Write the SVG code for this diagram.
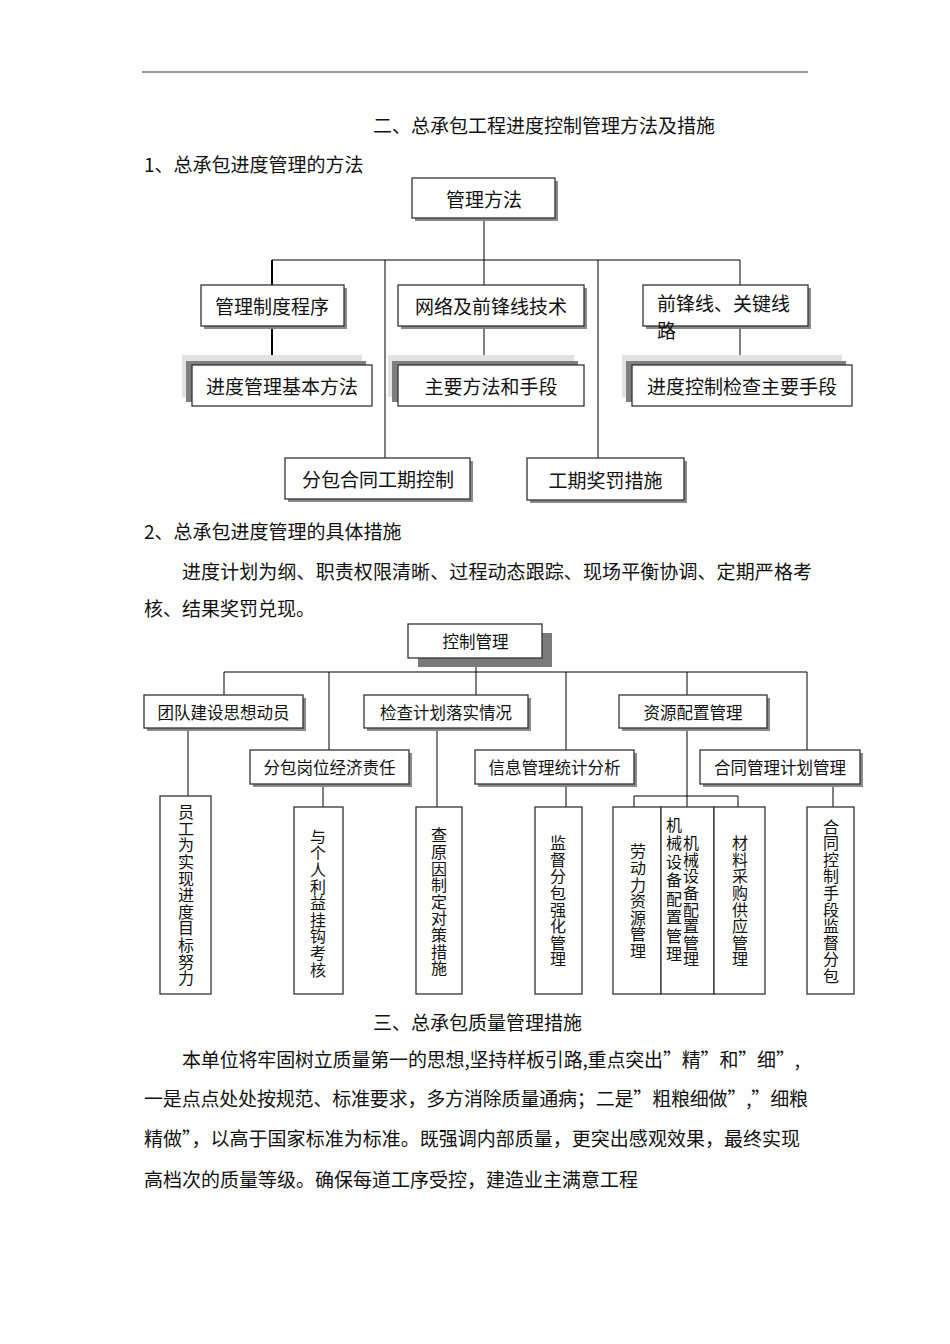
<svg xmlns="http://www.w3.org/2000/svg" width="950" height="1344" viewBox="0 0 950 1344">
<style>
.t{font-family:"Noto Sans CJK SC","Noto Sans CJK TC",sans-serif;fill:#111;font-size:19px}
.c{text-anchor:middle;dominant-baseline:central}
.s{font-size:16.5px}
.v{font-family:"Noto Sans CJK SC",sans-serif;fill:#111;font-size:16px;writing-mode:vertical-rl;text-anchor:middle;letter-spacing:0.6px}
.box{fill:#fff;stroke:#333;stroke-width:1.3}
.sh{fill:#8a8a8a}
.lt{fill:#e2e2e2}
.dk{fill:#7f7f7f}
.ln{stroke:#000;stroke-width:1;fill:none}
.th{stroke:#000;stroke-width:2;fill:none}
</style>
<rect width="950" height="1344" fill="#fff"/>
<line x1="142" y1="72" x2="808" y2="72" stroke="#333" stroke-width="1.2"/>
<g id="text-body">
<text class="t" x="373" y="124" dominant-baseline="central">二、总承包工程进度控制管理方法及措施</text>
<text class="t" x="144" y="163" dominant-baseline="central">1、总承包进度管理的方法</text>
<text class="t" x="144" y="530" dominant-baseline="central">2、总承包进度管理的具体措施</text>
<text class="t" x="182" y="570" dominant-baseline="central" textLength="630" lengthAdjust="spacing">进度计划为纲、职责权限清晰、过程动态跟踪、现场平衡协调、定期严格考</text>
<text class="t" x="144" y="607" dominant-baseline="central">核、结果奖罚兑现。</text>
<text class="t" x="373" y="1021" dominant-baseline="central">三、总承包质量管理措施</text>
<text class="t" x="182" y="1058" dominant-baseline="central" textLength="618" lengthAdjust="spacing">本单位将牢固树立质量第一的思想,坚持样板引路,重点突出”精”和”细”,</text>
<text class="t" x="144" y="1097" dominant-baseline="central" textLength="664" lengthAdjust="spacing">一是点点处处按规范、标准要求，多方消除质量通病；二是”粗粮细做”,”细粮</text>
<text class="t" x="144" y="1137" dominant-baseline="central" textLength="656" lengthAdjust="spacing">精做”，以高于国家标准为标准。既强调内部质量，更突出感观效果，最终实现</text>
<text class="t" x="144" y="1178" dominant-baseline="central">高档次的质量等级。确保每道工序受控，建造业主满意工程</text>
</g>
<g id="connectors">
<path class="ln" d="M484 218V260M272 260H740M385 260V458M484 260V285M598 260V458M740 260V285M484 326V365M740 326V365"/>
<path class="th" d="M272 260V285M272 326V365"/>
<path class="ln" d="M476 658V672M224 672H807M224 672V695M329 672V750M476 672V695M566 672V750M687 672V695M807 672V750M188 728V796M323 784V807M437 728V807M566 784V807M687 728V807M634 796H738M634 796V807M738 796V807M833 784V807"/>
</g>
<g id="n1"><rect class="sh" x="415" y="181" width="143" height="40"/><rect class="box" x="412" y="178" width="143" height="40"/><text class="t c" x="484" y="198">管理方法</text></g>
<g id="n2"><rect class="sh" x="204" y="288" width="143" height="41"/><rect class="box" x="201" y="285" width="143" height="41"/><text class="t c" x="272" y="305.5">管理制度程序</text></g>
<g id="n3"><rect class="sh" x="401" y="288" width="186" height="41"/><rect class="box" x="398" y="285" width="186" height="41"/><text class="t c" x="491" y="305.5">网络及前锋线技术</text></g>
<g id="n4"><rect class="sh" x="646" y="288" width="165" height="41"/><rect class="box" x="643" y="285" width="165" height="41"/><text class="t" x="657" y="302" dominant-baseline="central">前锋线、关键线</text><text class="t" x="657" y="329" dominant-baseline="central">路</text></g>
<g id="n5"><rect class="lt" x="182" y="355" width="180" height="42"/><rect class="dk" x="186" y="361" width="180" height="41"/><rect class="box" x="192" y="365" width="180" height="41"/><text class="t c" x="282" y="385.5">进度管理基本方法</text></g>
<g id="n6"><rect class="lt" x="388" y="355" width="186" height="42"/><rect class="dk" x="392" y="361" width="186" height="41"/><rect class="box" x="398" y="365" width="186" height="41"/><text class="t c" x="491" y="385.5">主要方法和手段</text></g>
<g id="n7"><rect class="lt" x="622" y="355" width="220" height="42"/><rect class="dk" x="626" y="361" width="220" height="41"/><rect class="box" x="632" y="365" width="220" height="41"/><text class="t c" x="742" y="385.5">进度控制检查主要手段</text></g>
<g id="n8"><rect class="sh" x="288" y="461" width="185" height="41"/><rect class="box" x="285" y="458" width="185" height="41"/><text class="t c" x="378" y="478.5">分包合同工期控制</text></g>
<g id="n9"><rect class="sh" x="530" y="461" width="157" height="42"/><rect class="box" x="527" y="458" width="157" height="42"/><text class="t c" x="605.5" y="479">工期奖罚措施</text></g>
<g id="m1"><rect fill="#7a7a7a" x="418" y="633" width="134" height="34"/><rect class="box" x="408" y="624" width="134" height="34"/><text class="t c s" x="475.5" y="641">控制管理</text></g>
<g id="m2"><rect class="sh" x="147" y="698" width="159" height="33"/><rect class="box" x="144" y="695" width="159" height="33"/><text class="t c s" x="223.5" y="711.5">团队建设思想动员</text></g>
<g id="m3"><rect class="sh" x="367" y="698" width="164" height="33"/><rect class="box" x="364" y="695" width="164" height="33"/><text class="t c s" x="446" y="711.5">检查计划落实情况</text></g>
<g id="m4"><rect class="sh" x="622" y="698" width="148" height="33"/><rect class="box" x="619" y="695" width="148" height="33"/><text class="t c s" x="693" y="711.5">资源配置管理</text></g>
<g id="m5"><rect class="sh" x="253" y="753" width="159" height="34"/><rect class="box" x="250" y="750" width="159" height="34"/><text class="t c s" x="329.5" y="767">分包岗位经济责任</text></g>
<g id="m6"><rect class="sh" x="478" y="753" width="159" height="34"/><rect class="box" x="475" y="750" width="159" height="34"/><text class="t c s" x="554.5" y="767">信息管理统计分析</text></g>
<g id="m7"><rect class="sh" x="703" y="753" width="160" height="34"/><rect class="box" x="700" y="750" width="160" height="34"/><text class="t c s" x="780" y="767">合同管理计划管理</text></g>
<g id="v1"><rect class="box" x="160" y="796" width="51" height="198"/><text class="v" x="186" y="895.5">员工为实现进度目标努力</text></g>
<g id="v2"><rect class="box" x="294" y="807" width="49" height="187"/><text class="v" x="318" y="903.5">与个人利益挂钩考核</text></g>
<g id="v3"><rect class="box" x="416" y="807" width="46" height="187"/><text class="v" x="439" y="902">查原因制定对策措施</text></g>
<g id="v4"><rect class="box" x="535" y="807" width="47" height="187"/><text class="v" x="558" y="901.5">监督分包强化管理</text></g>
<g id="v5"><rect class="box" x="613" y="807" width="48" height="187"/><text class="v" x="638" y="901.5">劳动力资源管理</text></g>
<g id="v6"><rect class="box" x="661" y="807" width="53" height="187"/><text class="v" x="674" y="890.5" style="letter-spacing:2.5px">机械设备配置管理</text><text class="v" x="691" y="901.5">机械设备配置管理</text></g>
<g id="v7"><rect class="box" x="714" y="807" width="51" height="187"/><text class="v" x="740" y="901.5">材料采购供应管理</text></g>
<g id="v8"><rect class="box" x="807" y="807" width="47" height="187"/><text class="v" x="831" y="901.5">合同控制手段监督分包</text></g>
</svg>
